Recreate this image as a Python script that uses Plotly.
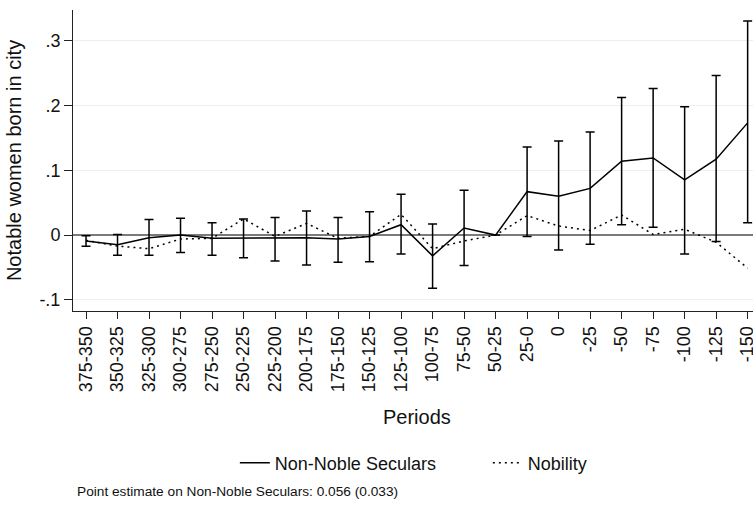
import plotly.graph_objects as go

periods = ["375-350", "350-325", "325-300", "300-275", "275-250", "250-225",
           "225-200", "200-175", "175-150", "150-125", "125-100", "100-75",
           "75-50", "50-25", "25-0", "0", "-25", "-50", "-75", "-100",
           "-125", "-150"]

non_noble = [-0.009, -0.015, -0.004, 0.000, -0.005, -0.005, -0.004, -0.004,
             -0.006, -0.002, 0.016, -0.032, 0.011, 0.000, 0.067, 0.060,
             0.072, 0.114, 0.119, 0.085, 0.117, 0.173]
non_noble_lo = [-0.017, -0.031, -0.031, -0.027, -0.031, -0.035, -0.040, -0.046,
                -0.042, -0.041, -0.029, -0.082, -0.047, 0.000, -0.002, -0.023,
                -0.014, 0.016, 0.012, -0.029, -0.010, 0.019]
non_noble_hi = [-0.001, 0.001, 0.024, 0.026, 0.019, 0.025, 0.027, 0.037,
                0.027, 0.036, 0.063, 0.017, 0.069, 0.000, 0.136, 0.145,
                0.159, 0.212, 0.226, 0.198, 0.246, 0.330]

nobility = [-0.008, -0.017, -0.021, -0.006, -0.005, 0.025, -0.002, 0.018,
            -0.005, -0.002, 0.032, -0.021, -0.009, 0.000, 0.030, 0.014,
            0.007, 0.031, 0.001, 0.009, -0.011, -0.051]

ytick_vals = [-0.1, 0, 0.1, 0.2, 0.3]
ytick_text = ["-.1", "0", ".1", ".2", ".3"]

FONT = "Liberation Sans, Arial, sans-serif"

err_plus = [h - v for h, v in zip(non_noble_hi, non_noble)]
err_minus = [v - l for v, l in zip(non_noble, non_noble_lo)]

fig = go.Figure()
fig.add_trace(go.Scatter(
    x=periods, y=non_noble, mode="lines", name="Non-Noble Seculars",
    line=dict(color="black", width=1.5),
    error_y=dict(type="data", array=err_plus, arrayminus=err_minus,
                 symmetric=False, color="black", thickness=1.5, width=4.5),
))
fig.add_trace(go.Scatter(
    x=periods, y=nobility, mode="lines", name="Nobility",
    line=dict(color="black", width=1.5, dash="2px,4px"),
))

fig.update_layout(
    width=753, height=505,
    margin=dict(l=73, r=0, t=10, b=194),
    paper_bgcolor="white", plot_bgcolor="white",
    font=dict(family=FONT, color="#111111"),
    showlegend=True,
    legend=dict(orientation="h", x=0.238, xanchor="left", y=-0.505,
                yanchor="middle", font=dict(size=18, family=FONT),
                entrywidth=208, entrywidthmode="pixels",
                bgcolor="rgba(0,0,0,0)"),
    xaxis=dict(type="category", categoryorder="array", categoryarray=periods,
               range=[-0.413, 21.17], showgrid=False, zeroline=False,
               showline=True, linecolor="#222222", linewidth=1,
               ticks="outside", ticklen=7, tickcolor="#222222",
               tickangle=-90, tickfont=dict(size=18, family=FONT),
               automargin=False),
    yaxis=dict(range=[-0.117, 0.347], tickvals=ytick_vals, ticktext=ytick_text,
               showgrid=True, gridcolor="#eeeeee", gridwidth=1,
               zeroline=True, zerolinecolor="#7a7a7a", zerolinewidth=2,
               showline=True, linecolor="#222222", linewidth=1,
               ticks="outside", ticklen=8, tickcolor="#222222",
               tickfont=dict(size=18, family=FONT),
               title=dict(text="Notable women born in city",
                          font=dict(size=20, family=FONT), standoff=12),
               automargin=False),
    annotations=[
        dict(text="Periods", xref="paper", yref="paper", x=0.506, y=-0.352,
             xanchor="center", yanchor="middle", showarrow=False,
             font=dict(size=20, family=FONT)),
        dict(text="Point estimate on Non-Noble Seculars: 0.056 (0.033)",
             xref="paper", yref="paper", x=0.003, y=-0.601,
             xanchor="left", yanchor="middle", showarrow=False,
             font=dict(size=13.7, family=FONT)),
    ],
)

fig.write_html("out.html")
